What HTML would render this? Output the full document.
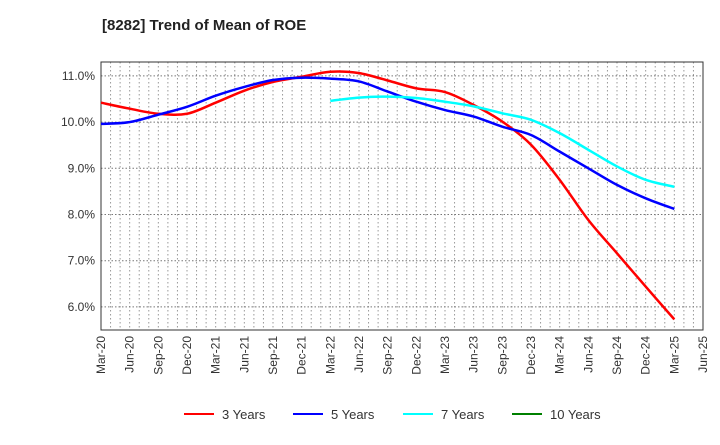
<!DOCTYPE html>
<html><head><meta charset="utf-8"><style>
body{margin:0;background:#fff;font-family:"Liberation Sans",sans-serif}
</style></head><body>
<svg id="c" width="720" height="440" xmlns="http://www.w3.org/2000/svg">
<text x="102" y="30" font-size="15" font-weight="bold" fill="#222">[8282]  Trend of Mean of ROE</text>
<g id="grid"></g><g id="axes"></g><g id="lines"></g><g id="legend"></g>
</svg>
<script>
const xLabels=["Mar-20","Jun-20","Sep-20","Dec-20","Mar-21","Jun-21","Sep-21","Dec-21","Mar-22","Jun-22","Sep-22","Dec-22","Mar-23","Jun-23","Sep-23","Dec-23","Mar-24","Jun-24","Sep-24","Dec-24","Mar-25","Jun-25"];
const yTicks=[6,7,8,9,10,11];
const y3=[10.42,10.29,10.18,10.18,10.42,10.68,10.87,10.98,11.09,11.06,10.90,10.73,10.65,10.37,10.01,9.51,8.75,7.88,7.16,6.44,5.73];
const y5=[9.96,10.0,10.16,10.33,10.57,10.76,10.91,10.96,10.94,10.88,10.66,10.44,10.26,10.12,9.90,9.72,9.36,9.00,8.64,8.35,8.12];
const y7=[null,null,null,null,null,null,null,null,10.46,10.53,10.55,10.52,10.44,10.34,10.19,10.05,9.76,9.40,9.04,8.75,8.60];
const y10=[];
const L=101,R=703,T=62,B=330,ymin=5.5,ymax=11.3;
const sx=i=>L+(R-L)*i/(xLabels.length-1);
const sy=v=>B-(v-ymin)/(ymax-ymin)*(B-T);
const NS="http://www.w3.org/2000/svg";
function mk(t,a,p){const e=document.createElementNS(NS,t);for(const k in a)e.setAttribute(k,a[k]);p.appendChild(e);return e;}
const g=document.getElementById('grid'),ax=document.getElementById('axes'),ln=document.getElementById('lines'),lg=document.getElementById('legend');
for(let m=1;m<(xLabels.length-1)*3;m++){const x=L+(R-L)*m/((xLabels.length-1)*3);
const e=mk('line',{x1:x,x2:x,y1:T,y2:B,stroke:'#999','stroke-dasharray':'1.5,2.5','stroke-width':1},g);

}
yTicks.forEach(v=>{const e=mk('line',{x1:L,x2:R,y1:sy(v),y2:sy(v),stroke:'#777','stroke-dasharray':'1.5,2','stroke-width':1},g);


const t=mk('text',{x:L-6,y:sy(v)+4,'text-anchor':'end','font-size':12,fill:'#333'},ax);t.textContent=v.toFixed(1)+'%';

});
const fr=mk('rect',{x:L,y:T,width:R-L,height:B-T,fill:'none',stroke:'#333','stroke-width':1},ax);


xLabels.forEach((s,i)=>{const t=mk('text',{transform:`translate(${sx(i)+4},${B+6}) rotate(-90)`,'text-anchor':'end','font-size':12,fill:'#333'},ax);t.textContent=s;

});
function path(arr){const p=[];arr.forEach((v,i)=>{if(v!=null)p.push([sx(i),sy(v)])});if(p.length<2)return '';
let d=`M${p[0][0]},${p[0][1]}`;for(let i=0;i<p.length-1;i++){const p0=p[i-1]||p[i],p1=p[i],p2=p[i+1],p3=p[i+2]||p2;
d+=` C${p1[0]+(p2[0]-p0[0])/6},${p1[1]+(p2[1]-p0[1])/6} ${p2[0]-(p3[0]-p1[0])/6},${p2[1]-(p3[1]-p1[1])/6} ${p2[0]},${p2[1]}`;}return d;}
const series=[[y3,'#ff0000','3 Years','line-3-years'],[y5,'#0000ff','5 Years','line-5-years'],[y7,'#00ffff','7 Years','line-7-years'],[y10,'#008000','10 Years','line-10-years']];
series.forEach(([a,c,n,id])=>{const d=path(a);if(d){const e=mk('path',{d:d,fill:'none',stroke:c,'stroke-width':2.5},ln);

}});
const lx=[184,293,403,512];
series.forEach(([a,c,n,id],i)=>{const gg=mk('g',{},lg);


mk('line',{x1:lx[i],x2:lx[i]+30,y1:414,y2:414,stroke:c,'stroke-width':2},gg);
const t=mk('text',{x:lx[i]+38,y:419,'font-size':13,fill:'#333'},gg);t.textContent=n;});
</script>
</body></html>
